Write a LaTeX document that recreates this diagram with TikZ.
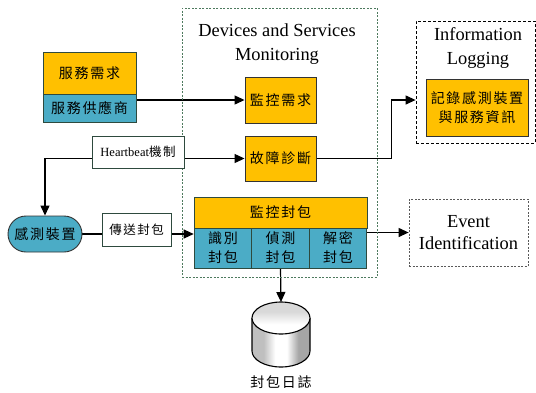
\documentclass[tikz,border=0pt]{standalone}
\usepackage{fontspec}
\setmainfont{Liberation Serif}
\newfontfamily\cjk[LetterSpace=12]{Noto Sans CJK TC}
\usetikzlibrary{arrows.meta,shapes.misc}
\definecolor{amber}{HTML}{FFC000}
\definecolor{aqua}{HTML}{4BACC6}
\definecolor{edge}{HTML}{2E4A3E}
\definecolor{framegreen}{HTML}{4E7A5E}
\pgfdeclarelayer{bg}
\pgfsetlayers{bg,main}
\pgfdeclarehorizontalshading{dbbody}{100bp}{color(0bp)=(black!25); color(35bp)=(black!25); color(45bp)=(white); color(55bp)=(white); color(65bp)=(black!35); color(100bp)=(black!35)}
\pgfdeclareverticalshading{dbtopface}{100bp}{color(0bp)=(white); color(40bp)=(white); color(60bp)=(black!15); color(100bp)=(black!15)}

\begin{document}
\begin{tikzpicture}[x=1pt,y=-1pt,
  >={Triangle[length=10pt,width=9pt]},
  box/.style={draw=edge, line width=0.9pt, align=center, inner sep=0pt,
    font=\cjk\fontsize{14}{19}\selectfont},
  amberbox/.style={box, fill=amber},
  aquabox/.style={box, fill=aqua},
  tagbox/.style={draw=edge, fill=white, line width=0.9pt, inner sep=0pt,
    font=\fontsize{12.5}{15}\selectfont},
  wire/.style={line width=1.2pt},
  title/.style={align=center, font=\fontsize{18.4}{24}\selectfont}
]
\useasboundingbox (0,0) rectangle (536,392);

% monitoring container
\node[draw=framegreen, line width=0.8pt, dash pattern=on 2pt off 1.5pt,
      minimum width=195pt, minimum height=269pt, inner sep=0pt] (monitor) at (279.5,142.5) {};
\node[title] (montitle) at (277,44.5) {Devices and Services\\Monitoring};

% service request / provider
\node[amberbox, minimum width=93pt, minimum height=42pt] (svcreq) at (89.5,73) {服務需求};
\node[aquabox, minimum width=93pt, minimum height=28pt] (svcprov) at (89.5,108) {服務供應商};

% monitoring functions
\node[amberbox, draw=black!80, minimum width=71pt, minimum height=46pt] (monreq) at (280.5,100) {監控需求};
\node[amberbox, draw=black!80, minimum width=71pt, minimum height=45pt] (fault) at (280.5,158.5) {故障診斷};

\node[tagbox, minimum width=92pt, minimum height=32pt] (hb) at (138,152) {Heartbeat{\cjk\fontsize{12.5}{15}\selectfont 機制}};

% information logging
\node[draw=black, line width=0.8pt, dash pattern=on 3pt off 2pt,
      minimum width=119pt, minimum height=122pt, inner sep=0pt] (infolog) at (475.5,82) {};
\node[title] (infotitle) at (478,48) {Information\\Logging};
\node[amberbox, draw=black!80, minimum width=102pt, minimum height=57pt] (logbox) at (477,107.5) {記錄感測裝置\\與服務資訊};

% sensor and packets
\node[aquabox, draw=black!80, rounded rectangle, minimum width=74pt, minimum height=36pt] (sensor) at (45,234) {感測裝置};
\node[tagbox, font=\cjk\fontsize{12.5}{15}\selectfont, minimum width=69pt, minimum height=33pt] (send) at (136.5,229.5) {傳送封包};

\node[amberbox, minimum width=173pt, minimum height=31pt] (monpkt) at (280.5,212.5) {監控封包};
\node[aquabox, minimum width=57.7pt, minimum height=40pt] (c1) at (223,248) {識別\\封包};
\node[aquabox, minimum width=57.7pt, minimum height=40pt] (c2) at (280.5,248) {偵測\\封包};
\node[aquabox, minimum width=57.7pt, minimum height=40pt] (c3) at (338,248) {解密\\封包};

% event identification
\node[draw=black!65, line width=0.8pt, dash pattern=on 2pt off 1.5pt, align=center,
      minimum width=119pt, minimum height=67pt, inner sep=0pt,
      font=\fontsize{18.4}{22}\selectfont] (event) at (468.5,232.5) {Event\\Identification};

% packet log database
\coordinate (dbtop) at (281,302);
\shade[shading=dbbody]
  (252,318) -- (252,351) arc[start angle=180, end angle=360, x radius=29pt, y radius=16pt]
  -- (310,318) -- cycle;
\draw[line width=1.1pt]
  (252,318) -- (252,351) arc[start angle=180, end angle=360, x radius=29pt, y radius=16pt]
  -- (310,318);
\shade[shading=dbtopface, draw=black, line width=1.1pt]
  (281,318) ellipse[x radius=29pt, y radius=16pt];
\node[font=\cjk\fontsize{14}{19}\selectfont] (dblabel) at (281,382) {封包日誌};

% connectors
\begin{pgfonlayer}{bg}
\draw[wire, ->] (svcprov.east |- monreq.west) -- (monreq.west);
\draw[wire, <->] (fault.west) -| (sensor.north);
\draw[wire, ->] (fault.east) -- ++(75,0) |- (infolog.west |- monreq.west);
\draw[wire, ->] (sensor.east) -- (c1.west |- sensor.east);
\draw[wire, ->] (c3.east |- event.west) -- (event.west);
\draw[wire, ->] (c2.south) -- (dbtop);
\end{pgfonlayer}
\end{tikzpicture}
\end{document}
